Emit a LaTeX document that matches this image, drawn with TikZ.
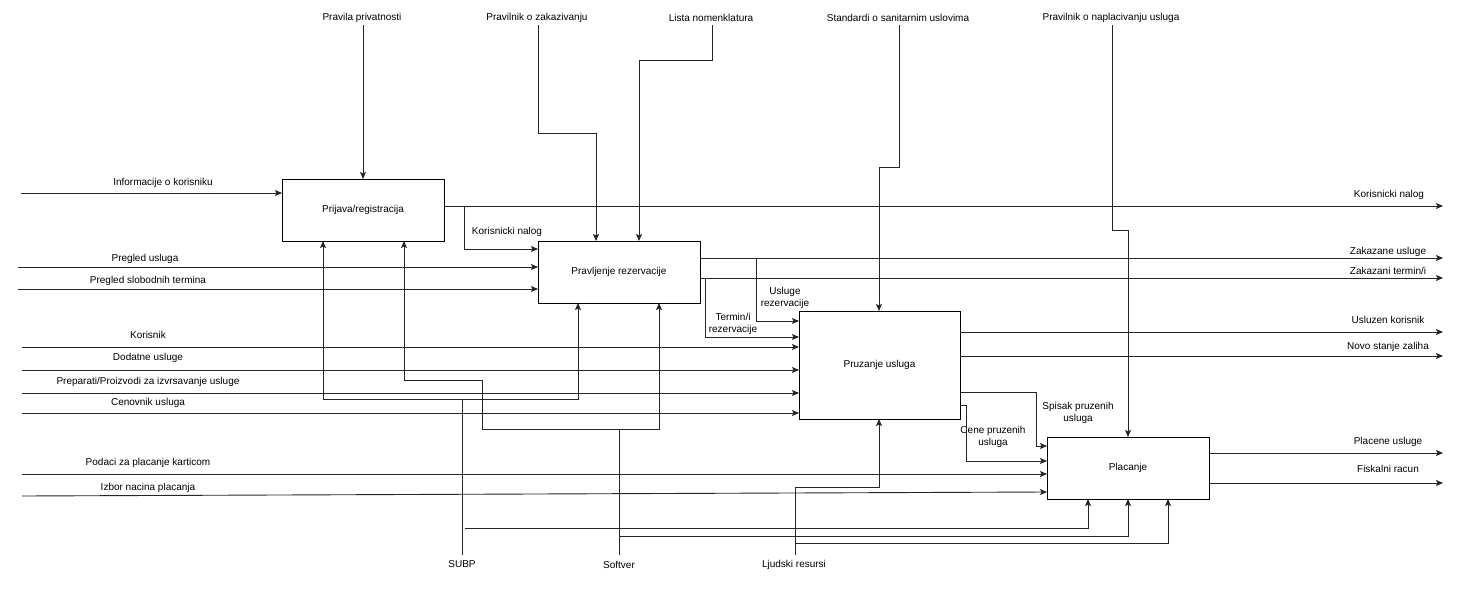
\documentclass[tikz,border=0pt]{standalone}
\usepackage{fontspec}
\setmainfont{Liberation Sans}
\usetikzlibrary{arrows.meta}
\begin{document}
\begin{tikzpicture}[x=1pt,y=-1pt,
  every node/.style={font=\fontsize{10}{12}\selectfont},
  fbox/.style={draw, line width=1pt, rectangle, inner sep=0pt, outer sep=0pt,
    minimum width=162pt, minimum height=62pt},
  lbl/.style={inner sep=1pt, align=center, yshift=-1.5pt},
  wire/.style={line width=0.9pt, black!85},
  arr/.style={wire, -{Stealth[length=7pt,width=6pt,inset=1.5pt]}}]
\useasboundingbox (0,0) rectangle (1465,594);

% activity boxes
\node[fbox] (prijava) at (363,210) {Prijava/registracija};
\node[fbox] (pravljenje) at (619,272) {Pravljenje rezervacije};
\node[fbox, minimum width=161pt, minimum height=108pt] (pruzanje) at (879.5,365) {Pruzanje usluga};
\node[fbox] (placanje) at (1128,468) {Placanje};

% controls (top)
\node[lbl] (tc1) at (362,16) {Pravila privatnosti};
\node[lbl] (tc2) at (537,16) {Pravilnik o zakazivanju};
\node[lbl] (tc3) at (711,16) {Lista nomenklatura};
\node[lbl] (tc4) at (898,16) {Standardi o sanitarnim uslovima};
\node[lbl] (tc5) at (1111,16) {Pravilnik o naplacivanju usluga};
\coordinate (c1) at (363,25);
\coordinate (c2) at (538,25);
\coordinate (c3) at (712,25);
\coordinate (c4) at (899,25);
\coordinate (c5) at (1112,25);
\draw[arr] (c1) -- (c1 |- prijava.north);
\draw[arr] (c2) |- (596,133) -- (596,0 |- pravljenje.north);
\draw[arr] (c3) |- (639,60) -- (639,0 |- pravljenje.north);
\draw[arr] (c4) |- (879,167) -- (879,0 |- pruzanje.north);
\draw[arr] (c5) |- (1128,230) -- (1128,0 |- placanje.north);

% inputs (left)
\node[lbl] (ti1) at (163,181) {Informacije o korisniku};
\node[lbl] (ti2) at (145,257) {Pregled usluga};
\node[lbl] (ti3) at (148,279) {Pregled slobodnih termina};
\node[lbl] (ti4) at (148,333) {Korisnik};
\node[lbl] (ti5) at (148,356) {Dodatne usluge};
\node[lbl] (ti6) at (148,380) {Preparati/Proizvodi za izvrsavanje usluge};
\node[lbl] (ti7) at (148,401) {Cenovnik usluga};
\node[lbl] (ti8) at (148,461) {Podaci za placanje karticom};
\node[lbl] (ti9) at (148,486) {Izbor nacina placanja};
\coordinate (i1) at (21,193);
\coordinate (i2) at (18,267);
\coordinate (i3) at (18,289);
\coordinate (i4) at (22,347);
\coordinate (i5) at (22,370);
\coordinate (i6) at (22,393);
\coordinate (i7) at (22,413);
\coordinate (i8) at (22,474);
\coordinate (i9) at (22,496);
\draw[arr] (i1) -- (i1 -| prijava.west);
\draw[arr] (i2) -- (i2 -| pravljenje.west);
\draw[arr] (i3) -- (i3 -| pravljenje.west);
\draw[arr] (i4) -- (i4 -| pruzanje.west);
\draw[arr] (i5) -- (i5 -| pruzanje.west);
\draw[arr] (i6) -- (i6 -| pruzanje.west);
\draw[arr] (i7) -- (i7 -| pruzanje.west);
\draw[arr] (i8) -- (i8 -| placanje.west);
\draw[arr] (i9) -- (placanje.west |- 0,492);

% outputs (right)
\node[lbl] (to1) at (1389,193) {Korisnicki nalog};
\node[lbl] (to2) at (1388,250) {Zakazane usluge};
\node[lbl] (to3) at (1388,269) {Zakazani termin/i};
\node[lbl] (to4) at (1388,318) {Usluzen korisnik};
\node[lbl] (to5) at (1388,345) {Novo stanje zaliha};
\node[lbl] (to6) at (1388,440) {Placene usluge};
\node[lbl] (to7) at (1388,467) {Fiskalni racun};
\coordinate (o1) at (1443,206);
\coordinate (o2) at (1443,258);
\coordinate (o3) at (1443,278);
\coordinate (o4) at (1443,332);
\coordinate (o5) at (1443,356);
\coordinate (o6) at (1443,453);
\coordinate (o7) at (1443,483);
\draw[arr] (prijava.east |- o1) -- (o1);
\draw[arr] (pravljenje.east |- o2) -- (o2);
\draw[arr] (pravljenje.east |- o3) -- (o3);
\draw[arr] (pruzanje.east |- o4) -- (o4);
\draw[arr] (pruzanje.east |- o5) -- (o5);
\draw[arr] (placanje.east |- o6) -- (o6);
\draw[arr] (placanje.east |- o7) -- (o7);

% internal flows
\node[lbl] (tk) at (507,230) {Korisnicki nalog};
\node[lbl] (tu) at (785,296) {Usluge\\rezervacije};
\node[lbl] (tt) at (733,322) {Termin/i\\rezervacije};
\node[lbl] (ts) at (1078,411) {Spisak pruzenih\\usluga};
\node[lbl] (tcn) at (993,435) {Cene pruzenih\\usluga};
\draw[arr] (464,206) |- (pravljenje.west |- 0,249);
\draw[arr] (756,258) |- (pruzanje.west |- 0,321);
\draw[arr] (705,278) |- (pruzanje.west |- 0,337);
\draw[arr] (pruzanje.east |- 0,392) -| (1036,446) -- (placanje.west |- 0,446);
\draw[arr] (pruzanje.east |- 0,405) -| (966,461) -- (placanje.west |- 0,461);

% mechanisms (bottom)
\node[lbl] (tm1) at (462,563) {SUBP};
\node[lbl] (tm2) at (619,563) {Softver};
\node[lbl] (tm3) at (794,563) {Ljudski resursi};
\coordinate (s1) at (462,555);
\coordinate (s2) at (619,555);
\coordinate (s3) at (795,555);
\draw[arr] (s1) |- (323,399) -- (323,0 |- prijava.south);
\draw[arr] (462,399) -| (578,0 |- pravljenje.south);
\draw[arr] (465,528) -| (1088,0 |- placanje.south);
\draw[arr] (s2) |- (482,429) |- (404,380) -- (404,0 |- prijava.south);
\draw[arr] (619,429) -| (659,0 |- pravljenje.south);
\draw[arr] (619,536) -| (1128,0 |- placanje.south);
\draw[arr] (s3) |- (879,487) -- (879,0 |- pruzanje.south);
\draw[arr] (795,543) -| (1168,0 |- placanje.south);
\end{tikzpicture}
\end{document}
